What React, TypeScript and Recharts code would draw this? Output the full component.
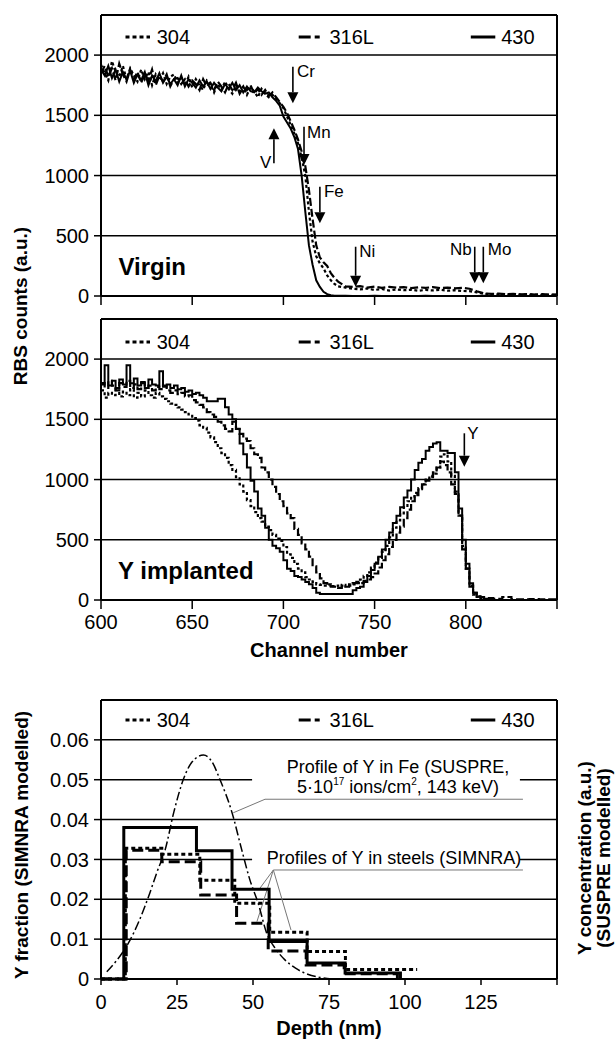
import React from "react";
import { LineChart, Line, XAxis, YAxis, CartesianGrid, ReferenceLine, Legend } from "recharts";

const FONT = "'Liberation Sans', Arial, Helvetica, sans-serif";

// ---------------- Top panel: Virgin ----------------
const chTop = [
  600, 602, 604, 606, 608, 610, 612, 614, 616, 618, 620, 622, 624, 626, 628, 630, 632, 634, 636, 638,
  640, 642, 644, 646, 648, 650, 652, 654, 656, 658, 660, 662, 664, 666, 668, 670, 672, 674, 676, 678,
  680, 682, 684, 686, 688, 690, 692, 694, 696, 698, 700, 702, 704, 706, 708, 710, 712, 714, 716, 718,
  720, 722, 724, 726, 728, 730,
  734, 738, 742, 746, 750, 754, 758, 762, 766, 770, 774, 778, 782, 786, 790, 794, 798, 802, 806, 810,
  814, 818, 822, 826, 830, 834, 838, 842, 846, 850,
];
const virgin304 = [
  1920, 1850, 1790, 1950, 1860, 1820, 1910, 1800, 1890, 1830, 1780, 1880, 1800, 1860, 1750, 1840, 1790, 1850, 1760, 1820,
  1840, 1770, 1810, 1750, 1820, 1730, 1800, 1750, 1710, 1790, 1760, 1690, 1760, 1710, 1780, 1720, 1680, 1750, 1700, 1740,
  1670, 1730, 1700, 1650, 1720, 1680, 1650, 1670, 1640, 1600, 1560, 1490, 1420, 1350, 1270, 1150, 1000, 700, 450, 330,
  270, 230, 170, 130, 100, 80,
  70, 60, 55, 62, 50, 58, 45, 55, 48, 52, 44, 50, 46, 52, 44, 48, 42, 40, 30, 18,
  15, 12, 14, 10, 12, 9, 11, 8, 10, 9,
];
const virgin316L = [
  1850, 1910, 1820, 1890, 1790, 1930, 1840, 1780, 1880, 1800, 1860, 1770, 1840, 1790, 1880, 1750, 1830, 1780, 1840, 1740,
  1800, 1810, 1760, 1800, 1740, 1790, 1760, 1710, 1800, 1740, 1770, 1710, 1780, 1740, 1690, 1760, 1710, 1770, 1680, 1730,
  1710, 1750, 1680, 1720, 1670, 1710, 1660, 1690, 1650, 1610, 1570, 1520, 1450, 1380, 1300, 1200, 1080, 880, 640, 420,
  320, 280, 250, 190, 150, 120,
  80, 75, 82, 70, 78, 68, 76, 70, 74, 66, 72, 68, 74, 65, 70, 64, 68, 60, 40, 22,
  18, 20, 15, 18, 14, 16, 12, 15, 12, 13,
];
const virgin430 = [
  1880, 1830, 1910, 1810, 1880, 1780, 1860, 1800, 1870, 1770, 1840, 1790, 1860, 1750, 1830, 1780, 1850, 1770, 1820, 1760,
  1800, 1750, 1830, 1740, 1800, 1770, 1730, 1790, 1740, 1780, 1720, 1770, 1730, 1700, 1760, 1720, 1770, 1710, 1750, 1690,
  1740, 1700, 1690, 1730, 1700, 1680, 1690, 1650, 1620, 1580, 1490, 1440, 1390, 1320, 1220, 1000, 700, 420, 260, 130,
  75, 35, 15, 6, 3, 2,
  2, 0, 1, 0, 2, 0, 1, 0, 0, 1, 0, 2, 0, 1, 0, 0, 1, 0, 0, 2,
  0, 1, 0, 0, 1, 0, 0, 1, 0, 0,
];

// ---------------- Middle panel: Y implanted ----------------
const chMid = [
  600, 602, 604, 606, 608, 610, 612, 614, 616, 618, 620, 622, 624, 626, 628, 630, 632, 634, 636, 638, 640,
  642, 644, 646, 648, 650, 652, 654, 656, 658, 660, 662, 664, 666, 668, 670, 672, 674, 676, 678, 680,
  682, 684, 686, 688, 690, 692, 694, 696, 698, 700,
  702, 704, 706, 708, 710, 712, 714, 716, 718, 720, 722, 724, 726, 728, 730, 732, 734, 736, 738, 740,
  742, 744, 746, 748, 750, 752, 754, 756, 758, 760,
  762, 764, 766, 768, 770, 772, 774, 776, 778, 780, 782, 784, 786, 788, 790, 792, 794, 796, 798, 800,
  802, 804, 806, 808, 810,
  815, 820, 825, 830, 835, 840, 845, 850,
];
const impl304 = [
  1740, 1680, 1720, 1700, 1760, 1690, 1730, 1700, 1750, 1680, 1720, 1690, 1740, 1700, 1680, 1720, 1690, 1670, 1650, 1630, 1620,
  1600, 1580, 1560, 1540, 1510, 1490, 1450, 1430, 1390, 1350, 1310, 1260, 1220, 1180, 1120, 1080, 1020, 960, 900, 830,
  780, 730, 680, 650, 610, 580, 540, 510, 490, 440,
  380, 350, 300, 260, 230, 190, 170, 150, 130, 125, 120, 130, 115, 120, 110, 125, 115, 120, 130, 140,
  170, 200, 230, 270, 310, 350, 400, 450, 520, 600,
  660, 720, 770, 820, 860, 890, 930, 960, 1000, 1030, 1050, 1100, 1190, 1210, 1150, 1030, 900, 700, 450, 260,
  120, 45, 25, 10, 5,
  0, 0, 0, 0, 0, 0, 0, 0,
];
const impl316L = [
  1800, 1760, 1820, 1780, 1740, 1800, 1770, 1820, 1760, 1790, 1750, 1800, 1760, 1780, 1740, 1770, 1750, 1780, 1740, 1720, 1740,
  1710, 1720, 1690, 1700, 1660, 1640, 1620, 1600, 1560, 1540, 1520, 1480, 1450, 1420, 1400, 1480, 1420, 1380, 1340, 1320,
  1260, 1210, 1180, 1100, 1060, 1000, 940, 880, 820, 780,
  720, 680, 590, 540, 470, 420, 360, 280, 230, 180, 140, 120, 110, 110, 100, 120, 110, 130, 140, 150,
  140, 160, 170, 190, 220, 270, 330, 380, 440, 500,
  560, 610, 680, 750, 820, 870, 920, 960, 990, 1020, 1060, 1100, 1150, 1120, 1060, 960, 880, 700, 420, 260,
  110, 60, 30, 25, 15,
  10, 25, 5, 5, 8, 5, 6, 4,
];
const impl430 = [
  1790, 1950, 1780, 1820, 1760, 1830, 1790, 1950, 1800, 1840, 1780, 1810, 1760, 1830, 1790, 1780, 1900, 1770, 1790, 1760, 1780,
  1750, 1760, 1730, 1740, 1710, 1720, 1700, 1680, 1650, 1650, 1650, 1670, 1670, 1600, 1540, 1500, 1420, 1300, 1210, 1100,
  990, 900, 760, 700, 600, 500, 450, 430, 400, 330,
  260, 240, 200, 190, 170, 150, 130, 100, 60, 50, 50, 50, 50, 50, 50, 50, 50, 50, 80, 100,
  110, 150, 200, 250, 300, 360, 420, 500, 560, 640,
  700, 770, 850, 910, 1000, 1080, 1140, 1170, 1240, 1270, 1300, 1310, 1240, 1240, 1220, 1220, 1060, 760, 500, 300,
  140, 60, 30, 25, 10,
  0, 0, 0, 0, 0, 0, 0, 0,
];

const yTicksRBS = [0, 500, 1000, 1500, 2000];
const xTicksCh = [600, 650, 700, 750, 800, 850];

// element markers (channel, arrow tail counts, arrow tip counts)
const virginArrowEl = ["Cr", "Mn", "V", "Fe", "Ni", "Nb", "Mo"];
const virginArrowCh = [705.2, 711.3, 694.8, 720, 739.6, 804.9, 809.6];
const virginArrowFrom = [1904, 1405, 1102, 907, 409, 409, 409];
const virginArrowTo = [1600, 1088, 1392, 604, 77, 105, 105];
const implArrowEl = ["Y"];
const implArrowCh = [799.2];
const implArrowFrom = [1384];
const implArrowTo = [1107];

// ---------------- Bottom panel: depth profiles ----------------
const depth304 = [0, 8, 20, 32.5, 44, 55.5, 67.8, 80.4, 104];
const frac304 = [0, 0.0328, 0.0313, 0.0248, 0.019, 0.0117, 0.0069, 0.0024, 0.0024];
const depth316L = [0, 8.3, 20, 32.8, 44.6, 55, 67.5, 80, 97.5];
const frac316L = [0, 0.0323, 0.0294, 0.0211, 0.014, 0.007, 0.0035, 0.0013, 0];
const depth430 = [0, 7.5, 31.4, 43.1, 55.3, 67.8, 80.3, 98.5];
const frac430 = [0, 0.038, 0.0322, 0.0225, 0.0094, 0.004, 0.0015, 0];
const suspreDepth = [1.9, 5, 9, 12.5, 15.6, 18.5, 21.1, 24, 27.1, 30, 33.7, 36.5, 39.1, 43, 46.3, 49, 51.7, 54.5, 57.5, 60.5, 64, 68, 72, 76];
const suspreY = [0.0018, 0.0045, 0.009, 0.0145, 0.0206, 0.027, 0.0324, 0.042, 0.0501, 0.0545, 0.0562, 0.0545, 0.0501, 0.042, 0.0324, 0.0248, 0.019, 0.0115, 0.0075, 0.0048, 0.0027, 0.0012, 0.0004, 0];
const yTicksFrac = [0, 0.01, 0.02, 0.03, 0.04, 0.05, 0.06];
const xTicksDepth = [0, 25, 50, 75, 100, 125, 150];

// leader lines (data coordinates: depth nm, fraction)
const leaderFe = [[53.95, 0.0451, 138.8, 0.0451], [53.95, 0.0451, 43.5, 0.0417]];
const leaderSteels = [
  [56.7, 0.02735, 138.8, 0.02735],
  [56.7, 0.02735, 52.3, 0.0228],
  [56.7, 0.02735, 51.3, 0.0144],
  [56.7, 0.02735, 62.5, 0.0123],
];

// styles
const LBL: Record<string, { dx: number; dy: number; anchor: "start" | "end" }> = {
  Cr: { dx: 4, dy: 4.5, anchor: "start" },
  Mn: { dx: 3, dy: 5, anchor: "start" },
  V: { dx: -2.5, dy: -1, anchor: "end" },
  Fe: { dx: 4, dy: 4.5, anchor: "start" },
  Ni: { dx: 3.5, dy: 4.5, anchor: "start" },
  Nb: { dx: -3, dy: 2, anchor: "end" },
  Mo: { dx: 4.5, dy: 2, anchor: "start" },
  Y: { dx: 3, dy: 0, anchor: "start" },
};

const tickStyle = { fontSize: 20, fill: "#000", fontFamily: FONT };
const axisLine = { stroke: "#000", strokeWidth: 2 };
const tickLine = { stroke: "#000", strokeWidth: 1.5 };

function makeArrow(el: string) {
  const o = LBL[el];
  return (p: any) => {
    const { x1, y1, x2, y2 } = p;
    const dir = y2 > y1 ? 1 : -1;
    const hl = 11;
    const hw = 5.5;
    return (
      <g>
        <line x1={x1} y1={y1} x2={x2} y2={y2 - dir * hl} stroke="#000" strokeWidth={1.6} />
        <polygon points={`${x2 - hw},${y2 - dir * hl} ${x2 + hw},${y2 - dir * hl} ${x2},${y2}`} fill="#000" />
        <text x={x1 + o.dx} y={y1 + o.dy + 6} textAnchor={o.anchor} fontSize={17} fontFamily={FONT} fill="#000">
          {el}
        </text>
      </g>
    );
  };
}

const LegendBox = () => (
  <svg width={616} height={24} style={{ display: "block" }}>
    <line x1={125.5} x2={150} y1={12} y2={12} stroke="#000" strokeWidth={3} strokeDasharray="4 3" />
    <text x={156.7} y={19} fontSize={20} fontFamily={FONT}>304</text>
    <line x1={298.7} x2={323.6} y1={12} y2={12} stroke="#000" strokeWidth={3} strokeDasharray="12 4 5 4" />
    <text x={329.5} y={19} fontSize={20} fontFamily={FONT}>316L</text>
    <line x1={470.8} x2={495.3} y1={12} y2={12} stroke="#000" strokeWidth={3} />
    <text x={501.2} y={19} fontSize={20} fontFamily={FONT}>430</text>
  </svg>
);

export default function App() {
  const topRows = chTop.map((ch, i) => ({ ch, s304: virgin304[i], s316: virgin316L[i], s430: virgin430[i] }));
  const midRows = chMid.map((ch, i) => ({ ch, s304: impl304[i], s316: impl316L[i], s430: impl430[i] }));
  const b304 = depth304.map((x, i) => ({ x, y: frac304[i] }));
  const b316 = depth316L.map((x, i) => ({ x, y: frac316L[i] }));
  const b430 = depth430.map((x, i) => ({ x, y: frac430[i] }));
  const bSus = suspreDepth.map((x, i) => ({ x, y: suspreY[i] }));

  const rbsYAxis = (
    <YAxis
      domain={[0, 2333]}
      ticks={yTicksRBS}
      interval={0}
      tickSize={7}
      tickMargin={5}
      width={60}
      tick={tickStyle}
      axisLine={axisLine}
      tickLine={tickLine}
    />
  );

  return (
    <div style={{ position: "absolute", left: 0, top: 0, width: 616, height: 1039, background: "#fff", fontFamily: FONT }}>
      {/* TOP: Virgin */}
      <div style={{ position: "absolute", left: 0, top: 0 }}>
        <LineChart width={616} height={310} data={topRows} margin={{ top: 15, right: 59, bottom: 0, left: 41 }}>
          <CartesianGrid vertical={false} stroke="#000" strokeWidth={1.5} />
          <XAxis
            dataKey="ch"
            type="number"
            domain={[600, 850]}
            ticks={xTicksCh}
            interval={0}
            tickSize={9}
            height={14}
            tickFormatter={() => ""}
            axisLine={axisLine}
            tickLine={tickLine}
          />
          {rbsYAxis}
          <ReferenceLine y={2333} stroke="#000" strokeWidth={2} />
          <ReferenceLine x={850} stroke="#000" strokeWidth={2} />
          <Line dataKey="s304" type="linear" stroke="#000" strokeWidth={2.2} strokeDasharray="3 2.5" dot={false} isAnimationActive={false} />
          <Line dataKey="s316" type="linear" stroke="#000" strokeWidth={2.2} strokeDasharray="8 3" dot={false} isAnimationActive={false} />
          <Line dataKey="s430" type="linear" stroke="#000" strokeWidth={2} dot={false} isAnimationActive={false} />
          {virginArrowEl.map((el, i) => (
            <ReferenceLine
              key={el}
              segment={[
                { x: virginArrowCh[i], y: virginArrowFrom[i] },
                { x: virginArrowCh[i], y: virginArrowTo[i] },
              ]}
              shape={makeArrow(el)}
            />
          ))}
          <Legend
            verticalAlign="middle"
            align="center"
            content={() => <LegendBox />}
            wrapperStyle={{ position: "absolute", top: 24.7, left: 0, width: 616, height: 24 }}
          />
        </LineChart>
      </div>

      {/* MIDDLE: Y implanted */}
      <div style={{ position: "absolute", left: 0, top: 305 }}>
        <LineChart width={616} height={340} data={midRows} margin={{ top: 14, right: 59, bottom: 0, left: 41 }}>
          <CartesianGrid vertical={false} stroke="#000" strokeWidth={1.5} />
          <XAxis
            dataKey="ch"
            type="number"
            domain={[600, 850]}
            ticks={xTicksCh}
            interval={0}
            tickSize={9}
            tickMargin={6}
            height={45}
            tick={tickStyle}
            tickFormatter={(v: number) => (v === 850 ? "" : String(v))}
            axisLine={axisLine}
            tickLine={tickLine}
          />
          {rbsYAxis}
          <ReferenceLine y={2333} stroke="#000" strokeWidth={2} />
          <ReferenceLine x={850} stroke="#000" strokeWidth={2} />
          <Line dataKey="s304" type="stepAfter" stroke="#000" strokeWidth={2.2} strokeDasharray="3 2.5" dot={false} isAnimationActive={false} />
          <Line dataKey="s316" type="stepAfter" stroke="#000" strokeWidth={2.2} strokeDasharray="8 3" dot={false} isAnimationActive={false} />
          <Line dataKey="s430" type="stepAfter" stroke="#000" strokeWidth={2} dot={false} isAnimationActive={false} />
          {implArrowEl.map((el, i) => (
            <ReferenceLine
              key={el}
              segment={[
                { x: implArrowCh[i], y: implArrowFrom[i] },
                { x: implArrowCh[i], y: implArrowTo[i] },
              ]}
              shape={makeArrow(el)}
            />
          ))}
          <Legend
            verticalAlign="middle"
            align="center"
            content={() => <LegendBox />}
            wrapperStyle={{ position: "absolute", top: 24.7, left: 0, width: 616, height: 24 }}
          />
        </LineChart>
      </div>

      {/* BOTTOM: depth profiles */}
      <div style={{ position: "absolute", left: 0, top: 690 }}>
        <LineChart width={616} height={349} margin={{ top: 10, right: 0, bottom: 0, left: 41 }}>
          <XAxis
            dataKey="x"
            type="number"
            domain={[0, 150]}
            ticks={xTicksDepth}
            interval={0}
            tickSize={6}
            tickMargin={10}
            height={60}
            tick={tickStyle}
            tickFormatter={(v: number) => (v === 150 ? "" : String(v))}
            axisLine={axisLine}
            tickLine={tickLine}
            allowDuplicatedCategory={false}
          />
          <YAxis
            yAxisId="l"
            domain={[0, 0.07]}
            ticks={yTicksFrac}
            interval={0}
            tickSize={7}
            tickMargin={5}
            width={60}
            tick={tickStyle}
            tickFormatter={(v: number) => (v === 0 ? "0" : v.toFixed(2))}
            axisLine={axisLine}
            tickLine={tickLine}
          />
          <YAxis
            yAxisId="r"
            orientation="right"
            domain={[0, 0.07]}
            ticks={yTicksFrac}
            interval={0}
            tickSize={9}
            width={59}
            tick={tickStyle}
            tickFormatter={() => ""}
            axisLine={axisLine}
            tickLine={tickLine}
          />
          {[0.01, 0.02, 0.04, 0.06].map((v) => (
            <ReferenceLine key={v} yAxisId="l" y={v} stroke="#000" strokeWidth={1.5} />
          ))}
          {[0.03, 0.05].map((v) => (
            <ReferenceLine key={"a" + v} yAxisId="l" segment={[{ x: 0, y: v }, { x: 49.7, y: v }]} stroke="#000" strokeWidth={1.5} />
          ))}
          {[0.03, 0.05].map((v) => (
            <ReferenceLine key={"b" + v} yAxisId="l" segment={[{ x: 137.8, y: v }, { x: 150, y: v }]} stroke="#000" strokeWidth={1.5} />
          ))}
          <ReferenceLine yAxisId="l" y={0.07} stroke="#000" strokeWidth={2} />
          {[...leaderFe, ...leaderSteels].map((s, i) => (
            <ReferenceLine
              key={"ld" + i}
              yAxisId="l"
              segment={[{ x: s[0], y: s[1] }, { x: s[2], y: s[3] }]}
              stroke="#777"
              strokeWidth={1}
            />
          ))}
          <Line yAxisId="l" data={bSus} dataKey="y" type="monotone" stroke="#000" strokeWidth={1.5} strokeDasharray="9 3 2 3" dot={false} isAnimationActive={false} />
          <Line yAxisId="l" data={b304} dataKey="y" type="stepAfter" stroke="#000" strokeWidth={3} strokeDasharray="4 3" dot={false} isAnimationActive={false} />
          <Line yAxisId="l" data={b316} dataKey="y" type="stepAfter" stroke="#000" strokeWidth={3} strokeDasharray="11 5" dot={false} isAnimationActive={false} />
          <Line yAxisId="l" data={b430} dataKey="y" type="stepAfter" stroke="#000" strokeWidth={3} dot={false} isAnimationActive={false} />
          <Legend
            verticalAlign="middle"
            align="center"
            content={() => <LegendBox />}
            wrapperStyle={{ position: "absolute", top: 18, left: 0, width: 616, height: 24 }}
          />
        </LineChart>
      </div>

      {/* Titles and annotations */}
      <svg width={616} height={1039} style={{ position: "absolute", left: 0, top: 0, pointerEvents: "none" }}>
        <g fontFamily={FONT} fill="#000">
          <text x={0} y={0} transform="translate(26.5,306) rotate(-90)" textAnchor="middle" fontSize={19} fontWeight="bold">
            RBS counts (a.u.)
          </text>
          <text x={118.4} y={275} fontSize={24} fontWeight="bold">Virgin</text>
          <text x={118} y={578.5} fontSize={24} fontWeight="bold">Y implanted</text>
          <text x={329} y={657} textAnchor="middle" fontSize={20} fontWeight="bold">Channel number</text>
          <text x={0} y={0} transform="translate(28,845) rotate(-90)" textAnchor="middle" fontSize={19} fontWeight="bold">
            Y fraction (SIMNRA modelled)
          </text>
          <text x={0} y={0} transform="translate(591,858) rotate(-90)" textAnchor="middle" fontSize={19} fontWeight="bold">
            Y concentration (a.u.)
          </text>
          <text x={0} y={0} transform="translate(610,858) rotate(-90)" textAnchor="middle" fontSize={19} fontWeight="bold">
            (SUSPRE modelled)
          </text>
          <text x={329} y={1035} textAnchor="middle" fontSize={20} fontWeight="bold">Depth (nm)</text>
          <text x={398} y={773} textAnchor="middle" fontSize={18}>Profile of Y in Fe (SUSPRE,</text>
          <text x={398} y={793} textAnchor="middle" fontSize={18}>
            5·10<tspan fontSize={10} dy={-8}>17</tspan>
            <tspan dy={8}> ions/cm</tspan>
            <tspan fontSize={10} dy={-8}>2</tspan>
            <tspan dy={8}>, 143 keV)</tspan>
          </text>
          <text x={394} y={864} textAnchor="middle" fontSize={18}>Profiles of Y in steels (SIMNRA)</text>
        </g>
      </svg>
    </div>
  );
}
